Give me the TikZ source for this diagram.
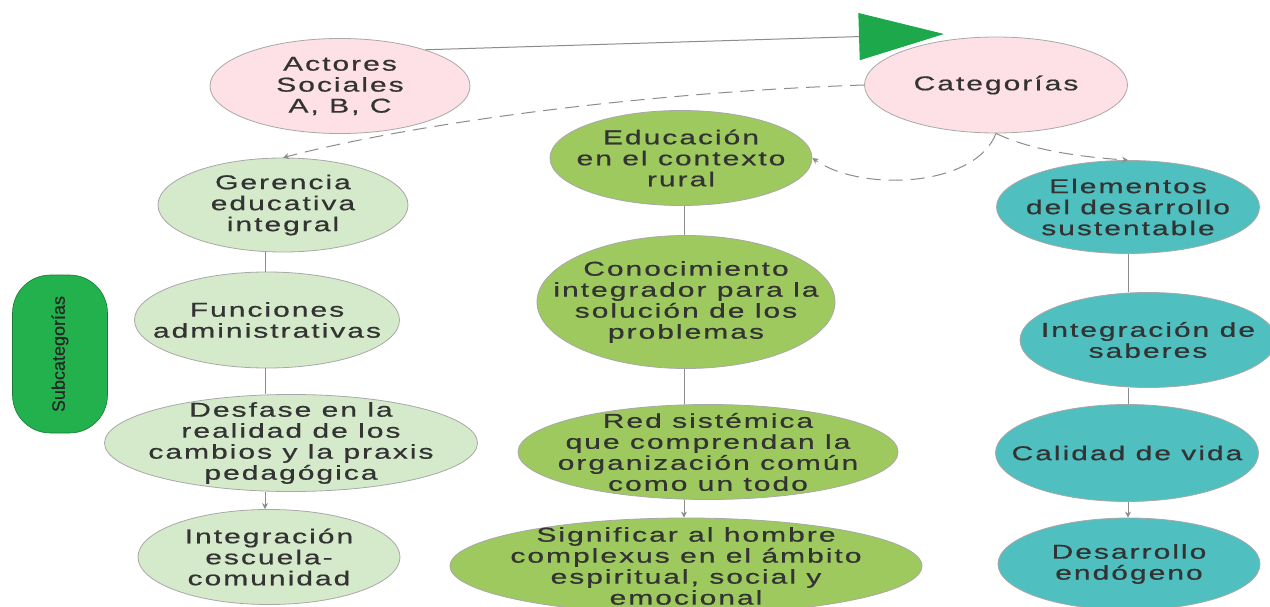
\documentclass[tikz,border=0pt]{standalone}
\usepackage{fontspec}
\setmainfont{Liberation Sans}
\newfontfamily\bubfont[FakeStretch=1.5,LetterSpace=10,FakeBold=0.6]{Liberation Sans}
\newfontfamily\pillfont[FakeBold=0.4]{Liberation Sans}
\usetikzlibrary{shapes.geometric,arrows.meta}
\definecolor{pinkf}{HTML}{FDE1E7}
\definecolor{lgreen}{HTML}{D5EACB}
\definecolor{olive}{HTML}{9DC95E}
\definecolor{tealf}{HTML}{4FBFBF}
\definecolor{pillg}{HTML}{22B14C}
\definecolor{trig}{HTML}{1DA84B}
\definecolor{edgec}{HTML}{A8A8A8}
\definecolor{linec}{HTML}{8C8C8C}
\definecolor{txt}{HTML}{333333}
\begin{document}
\begin{tikzpicture}[x=1pt,y=-1pt,
  bub/.style={ellipse, draw=edgec, line width=0.8pt, inner sep=-150pt, align=center, text=txt,
    font=\bubfont\fontsize{20}{21}\selectfont},
  conn/.style={draw=linec, line width=1pt},
  dconn/.style={conn, dash pattern=on 14pt off 8pt},
  tipa/.style={-{Stealth[length=6pt,width=6pt]}}
]
\useasboundingbox (0,0) rectangle (1270,607);
\fill[white] (0,0) rectangle (1270,607);

% header
\node[bub, fill=pinkf, minimum width=260pt, minimum height=95pt] (act) at (340,86) {Actores\\Sociales\\A, B, C};
\node[bub, fill=pinkf, minimum width=263pt, minimum height=96pt] (cat) at (996,85) {Categorías};

% left column
\node[bub, fill=lgreen, minimum width=250pt, minimum height=94pt] (ger) at (283,205) {Gerencia\\educativa\\integral};
\node[bub, fill=lgreen, minimum width=265pt, minimum height=96pt] (fun) at (267,320) {Funciones\\administrativas};
\node[bub, fill=lgreen, minimum width=373pt, minimum height=97pt] (des) at (291,443) {Desfase en la\\realidad de los\\cambios y la praxis\\pedagógica};
\node[bub, fill=lgreen, minimum width=262pt, minimum height=95pt] (ies) at (269,557) {Integración\\escuela-\\comunidad};

% middle column
\node[bub, fill=olive, minimum width=262pt, minimum height=95pt] (edu) at (681,158) {Educación\\en el contexto\\rural};
\node[bub, fill=olive, minimum width=298pt, minimum height=133pt] (con) at (686,302) {Conocimiento\\integrador para la\\solución de los\\problemas};
\node[bub, fill=olive, minimum width=380pt, minimum height=95pt] (red) at (708,452) {Red sistémica\\que comprendan la\\organización común\\como un todo};
\node[bub, fill=olive, minimum width=472pt, minimum height=96pt] (sig) at (686,566) {Significar al hombre\\complexus en el ámbito\\espiritual, social y\\emocional};

% right column
\node[bub, fill=tealf, minimum width=263pt, minimum height=93pt] (ele) at (1128,207) {Elementos\\del desarrollo\\sustentable};
\node[bub, fill=tealf, minimum width=256pt, minimum height=95pt] (isa) at (1148,340) {Integración de\\saberes};
\node[bub, fill=tealf, minimum width=263pt, minimum height=97pt] (cal) at (1127,453) {Calidad de vida};
\node[bub, fill=tealf, minimum width=262pt, minimum height=92pt] (dez) at (1129,564) {Desarrollo\\endógeno};

% side pill
\node[draw=pillg!70!black, line width=0.6pt, fill=pillg, rounded corners=38pt, minimum width=95pt, minimum height=158pt] (sub) at (60,354) {};
\node[rotate=90, text=black!85, font=\pillfont\fontsize{18}{20}\selectfont] (subt) at (sub.center) {Subcategorías};

% column guides
\coordinate (xl) at (265,0);
\coordinate (xm) at (684,0);
\coordinate (xr) at (1128,0);

% vertical connectors
\draw[conn] (ger.south -| xl) -- (fun.north -| xl);
\draw[conn] (fun.south -| xl) -- (des.north -| xl);
\draw[conn, tipa] (des.south -| xl) -- (ies.north -| xl);
\draw[conn] (edu.south -| xm) -- (con.north -| xm);
\draw[conn] (con.south -| xm) -- (red.north -| xm);
\draw[conn, tipa] (red.south -| xm) -- (sig.north -| xm);
\draw[conn] (ele.south -| xr) -- (isa.north -| xr);
\draw[conn] (isa.south -| xr) -- (cal.north -| xr);
\draw[conn, tipa] (cal.south -| xr) -- (dez.north -| xr);

% top connector with big triangle
\coordinate (tip) at (944,34);
\draw[conn, -{Triangle[length=85pt,width=47pt,color=trig]}] (act.23) -- (tip);

% dashed connectors
\draw[dconn, tipa] (cat.west) .. controls (650,92) and (420,122) .. (ger.north);
\draw[dconn, tipa] (cat.south) .. controls (975,188) and (860,192) .. (edu.east);
\draw[dconn, tipa] (cat.south) .. controls (1030,150) and (1080,157) .. (ele.north);
\end{tikzpicture}
\end{document}
